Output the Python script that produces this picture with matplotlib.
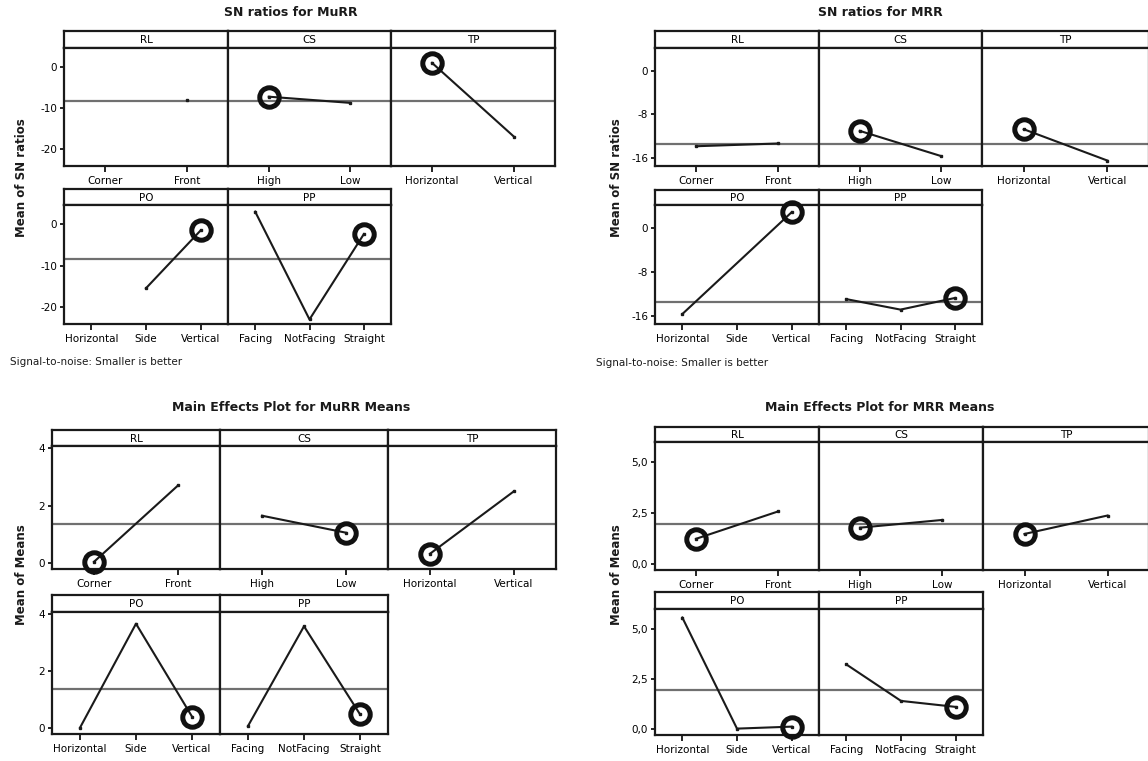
import numpy as np
import matplotlib
matplotlib.use("Agg")
import matplotlib.pyplot as plt

nan = np.nan

# factor levels
factors = ["RL", "CS", "TP", "PO", "PP"]
levels = {
    "RL": ["Corner", "Front"],
    "CS": ["High", "Low"],
    "TP": ["Horizontal", "Vertical"],
    "PO": ["Horizontal", "Side", "Vertical"],
    "PP": ["Facing", "NotFacing", "Straight"],
}

# SN ratios for MuRR
sn_murr_values = {"RL": [nan, -8.1], "CS": [-7.2, -8.7], "TP": [1.0, -16.9],
                  "PO": [nan, -15.4, -1.5], "PP": [3.0, -22.9, -2.4]}
sn_murr_mean = -8.3
sn_murr_best = {"RL": None, "CS": 0, "TP": 0, "PO": 2, "PP": 2}
sn_murr_ticks = [0, -10, -20]
sn_murr_ticklabels = ["0", "-10", "-20"]

# SN ratios for MRR
sn_mrr_values = {"RL": [-13.8, -13.3], "CS": [-11.0, -15.6], "TP": [-10.7, -16.4],
                 "PO": [-15.6, nan, 2.8], "PP": [-12.9, -14.8, -12.7]}
sn_mrr_mean = -13.4
sn_mrr_best = {"RL": None, "CS": 0, "TP": 0, "PO": 2, "PP": 2}
sn_mrr_ticks = [0, -8, -16]
sn_mrr_ticklabels = ["0", "-8", "-16"]

# Means for MuRR
mean_murr_values = {"RL": [0.05, 2.7], "CS": [1.65, 1.06], "TP": [0.33, 2.5],
                    "PO": [0.02, 3.66, 0.41], "PP": [0.08, 3.57, 0.49]}
mean_murr_mean = 1.36
mean_murr_best = {"RL": 0, "CS": 1, "TP": 0, "PO": 2, "PP": 2}
mean_murr_ticks = [0, 2, 4]
mean_murr_ticklabels = ["0", "2", "4"]

# Means for MRR
mean_mrr_values = {"RL": [1.22, 2.57], "CS": [1.77, 2.15], "TP": [1.46, 2.37],
                   "PO": [5.57, 0.0, 0.1], "PP": [3.22, 1.39, 1.09]}
mean_mrr_mean = 1.94
mean_mrr_best = {"RL": 0, "CS": 0, "TP": 0, "PO": 2, "PP": 2}
mean_mrr_ticks = [0, 2.5, 5]
mean_mrr_ticklabels = ["0,0", "2,5", "5,0"]

W, H = 1148, 761
plt.rcParams["font.family"] = ["DejaVu Sans"]
fig = plt.figure(figsize=(W / 100, H / 100), dpi=100)

LINE = "#1a1a1a"
REF = "#707070"


def px_axes(x0, y0, x1, y1):
    return fig.add_axes([x0 / W, 1 - y1 / H, (x1 - x0) / W, (y1 - y0) / H])


def draw_panel(x0, x1, ytop, yhead, ybot, factor, vals, mean, best, ylim,
               ticks, ticklabels, first):
    hax = px_axes(x0, ytop, x1, yhead)
    hax.set_xticks([])
    hax.set_yticks([])
    hax.text(0.5, 0.45, factor, ha="center", va="center", fontsize=7.5,
             transform=hax.transAxes)
    for sp in hax.spines.values():
        sp.set_linewidth(1.6)
        sp.set_color(LINE)

    ax = px_axes(x0, yhead, x1, ybot)
    names = levels[factor]
    xs = np.arange(len(names))
    ax.set_xlim(-0.5, len(names) - 0.5)
    ax.set_ylim(ylim)
    ax.axhline(mean, color=REF, lw=1.6, zorder=1)
    v = np.array(vals, dtype=float)
    ok = ~np.isnan(v)
    ax.plot(xs[ok], v[ok], color=LINE, lw=1.5, marker="s", ms=2, zorder=2)
    if best is not None:
        ax.plot(xs[best], v[best], "o", ms=14, mfc="none", mec="#111111",
                mew=3.6, clip_on=False, zorder=3)
    ax.set_xticks(xs)
    ax.set_xticklabels(names)
    if first:
        ax.set_yticks(ticks)
        ax.set_yticklabels(ticklabels)
    else:
        ax.set_yticks([])
    ax.tick_params(axis="x", direction="out", length=4, width=1.2, labelsize=7.5, pad=3)
    ax.tick_params(axis="y", direction="out", length=3, width=1.2, labelsize=7.5, pad=2)
    for sp in ax.spines.values():
        sp.set_linewidth(1.6)
        sp.set_color(LINE)


def draw_chart(cols, rows, values, mean, best, ylim, ticks, ticklabels):
    row_factors = [factors[:3], factors[3:]]
    for (ytop, yhead, ybot), fs in zip(rows, row_factors):
        for i, f in enumerate(fs):
            draw_panel(cols[i], cols[i + 1], ytop, yhead, ybot, f, values[f], mean,
                       best[f], ylim, ticks, ticklabels, i == 0)


draw_chart([64, 228, 391, 555], [(31, 48, 166), (189, 205, 324)],
           sn_murr_values, sn_murr_mean, sn_murr_best, (-24.0, 4.6),
           sn_murr_ticks, sn_murr_ticklabels)
draw_chart([655, 819, 982, 1149], [(31, 48, 166), (190, 205, 324)],
           sn_mrr_values, sn_mrr_mean, sn_mrr_best, (-17.4, 4.1),
           sn_mrr_ticks, sn_mrr_ticklabels)
draw_chart([52, 220, 388, 556], [(430, 446, 569), (595, 612, 734)],
           mean_murr_values, mean_murr_mean, mean_murr_best, (-0.2, 4.07),
           mean_murr_ticks, mean_murr_ticklabels)
draw_chart([655, 819, 983, 1149], [(427, 442, 570), (592, 609, 735)],
           mean_mrr_values, mean_mrr_mean, mean_mrr_best, (-0.32, 6.0),
           mean_mrr_ticks, mean_mrr_ticklabels)

# titles
title_kw = dict(ha="center", va="center", fontsize=9, fontweight="bold", color=LINE)
fig.text(291 / W, 1 - 13 / H, "SN ratios for MuRR", **title_kw)
fig.text(880 / W, 1 - 13 / H, "SN ratios for MRR", **title_kw)
fig.text(291 / W, 1 - 407 / H, "Main Effects Plot for MuRR Means", **title_kw)
fig.text(880 / W, 1 - 407 / H, "Main Effects Plot for MRR Means", **title_kw)

# y labels
ylab_kw = dict(ha="center", va="center", rotation=90, fontsize=8.5,
               fontweight="bold", color=LINE)
fig.text(22 / W, 1 - 178 / H, "Mean of SN ratios", **ylab_kw)
fig.text(616 / W, 1 - 178 / H, "Mean of SN ratios", **ylab_kw)
fig.text(22 / W, 1 - 575 / H, "Mean of Means", **ylab_kw)
fig.text(616 / W, 1 - 575 / H, "Mean of Means", **ylab_kw)

# footnotes
fig.text(10 / W, 1 - 362 / H, "Signal-to-noise: Smaller is better", ha="left",
         va="center", fontsize=7.5, color=LINE)
fig.text(596 / W, 1 - 363 / H, "Signal-to-noise: Smaller is better", ha="left",
         va="center", fontsize=7.5, color=LINE)

fig.savefig("out.png", dpi=100)
